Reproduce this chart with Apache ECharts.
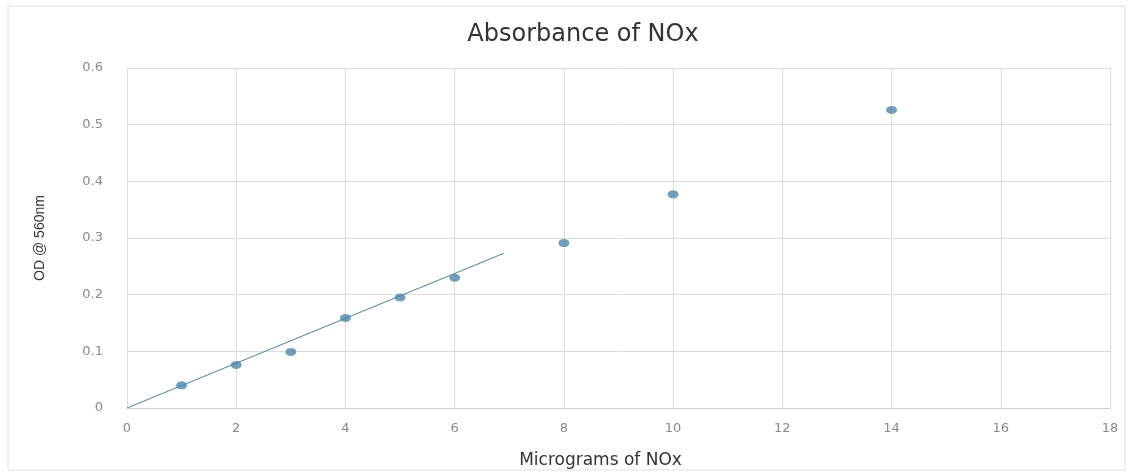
<!DOCTYPE html>
<html>
<head>
<meta charset="utf-8">
<script src="https://cdn.jsdelivr.net/npm/echarts@6/dist/echarts.min.js"></script>
<style>
  html, body { margin: 0; padding: 0; background: #fff; }
  #chart { width: 1131px; height: 474px; }
</style>
</head>
<body>
<div id="chart"></div>
<script>
// measured points (micrograms, OD)
var micrograms = [1, 2, 3, 4, 5, 6, 8, 10, 14];
var absorbance = [0.040, 0.076, 0.099, 0.159, 0.195, 0.230, 0.291, 0.377, 0.526];
// linear trendline drawn by hand in the original
var trendX = [0, 6.9];
var trendY = [0, 0.273];

var chart = echarts.init(document.getElementById('chart'));

var points = micrograms.map(function (x, i) { return [x, absorbance[i]]; });
var trend = trendX.map(function (x, i) { return [x, trendY[i]]; });

var option = {
  backgroundColor: '#fff',
  animation: false,
  title: {
    text: 'Absorbance of NOx',
    left: 578,
    textAlign: 'center',
    top: 18,
    textStyle: { color: '#333', fontSize: 24, fontWeight: 'normal', fontFamily: 'DejaVu Sans' }
  },
  graphic: [{
    type: 'rect',
    shape: { x: 8, y: 6, width: 1117, height: 464 },
    style: { fill: 'none', stroke: '#e0e0e0', lineWidth: 1 }
  }],
  grid: { left: 127, right: 21, top: 68, bottom: 66 },
  xAxis: {
    type: 'value',
    min: 0, max: 18, interval: 2,
    name: 'Micrograms of NOx',
    nameLocation: 'middle',
    nameGap: 44,
    nameTextStyle: { color: '#333', fontSize: 17, fontFamily: 'DejaVu Sans', padding: [0, 36, 0, 0] },
    axisLine: { show: true, lineStyle: { color: '#d0d0d0' } },
    axisTick: { show: false },
    axisLabel: { color: '#8a8a8a', fontSize: 13, margin: 14, fontFamily: 'DejaVu Sans' },
    splitLine: { show: true, lineStyle: { color: '#dcdcdc' } }
  },
  yAxis: {
    type: 'value',
    min: 0, max: 0.6, interval: 0.1,
    name: 'OD @ 560nm',
    nameLocation: 'middle',
    nameGap: 80,
    nameRotate: 90,
    nameTextStyle: { color: '#333', fontSize: 14, fontFamily: 'Liberation Sans' },
    axisLine: { show: false },
    axisTick: { show: false },
    axisLabel: { color: '#8a8a8a', fontSize: 13, margin: 24, fontFamily: 'DejaVu Sans' },
    splitLine: { show: true, lineStyle: { color: '#dcdcdc' } }
  },
  series: [
    {
      name: 'trend',
      type: 'line',
      data: trend,
      symbol: 'none',
      lineStyle: { color: '#4a7f9e', width: 1 },
      z: 2
    },
    {
      name: 'OD',
      type: 'scatter',
      data: points,
      symbol: 'circle',
      symbolSize: [11, 8],
      itemStyle: { color: '#4f87aa' },
      z: 3
    }
  ]
};

chart.setOption(option);
</script>
</body>
</html>
